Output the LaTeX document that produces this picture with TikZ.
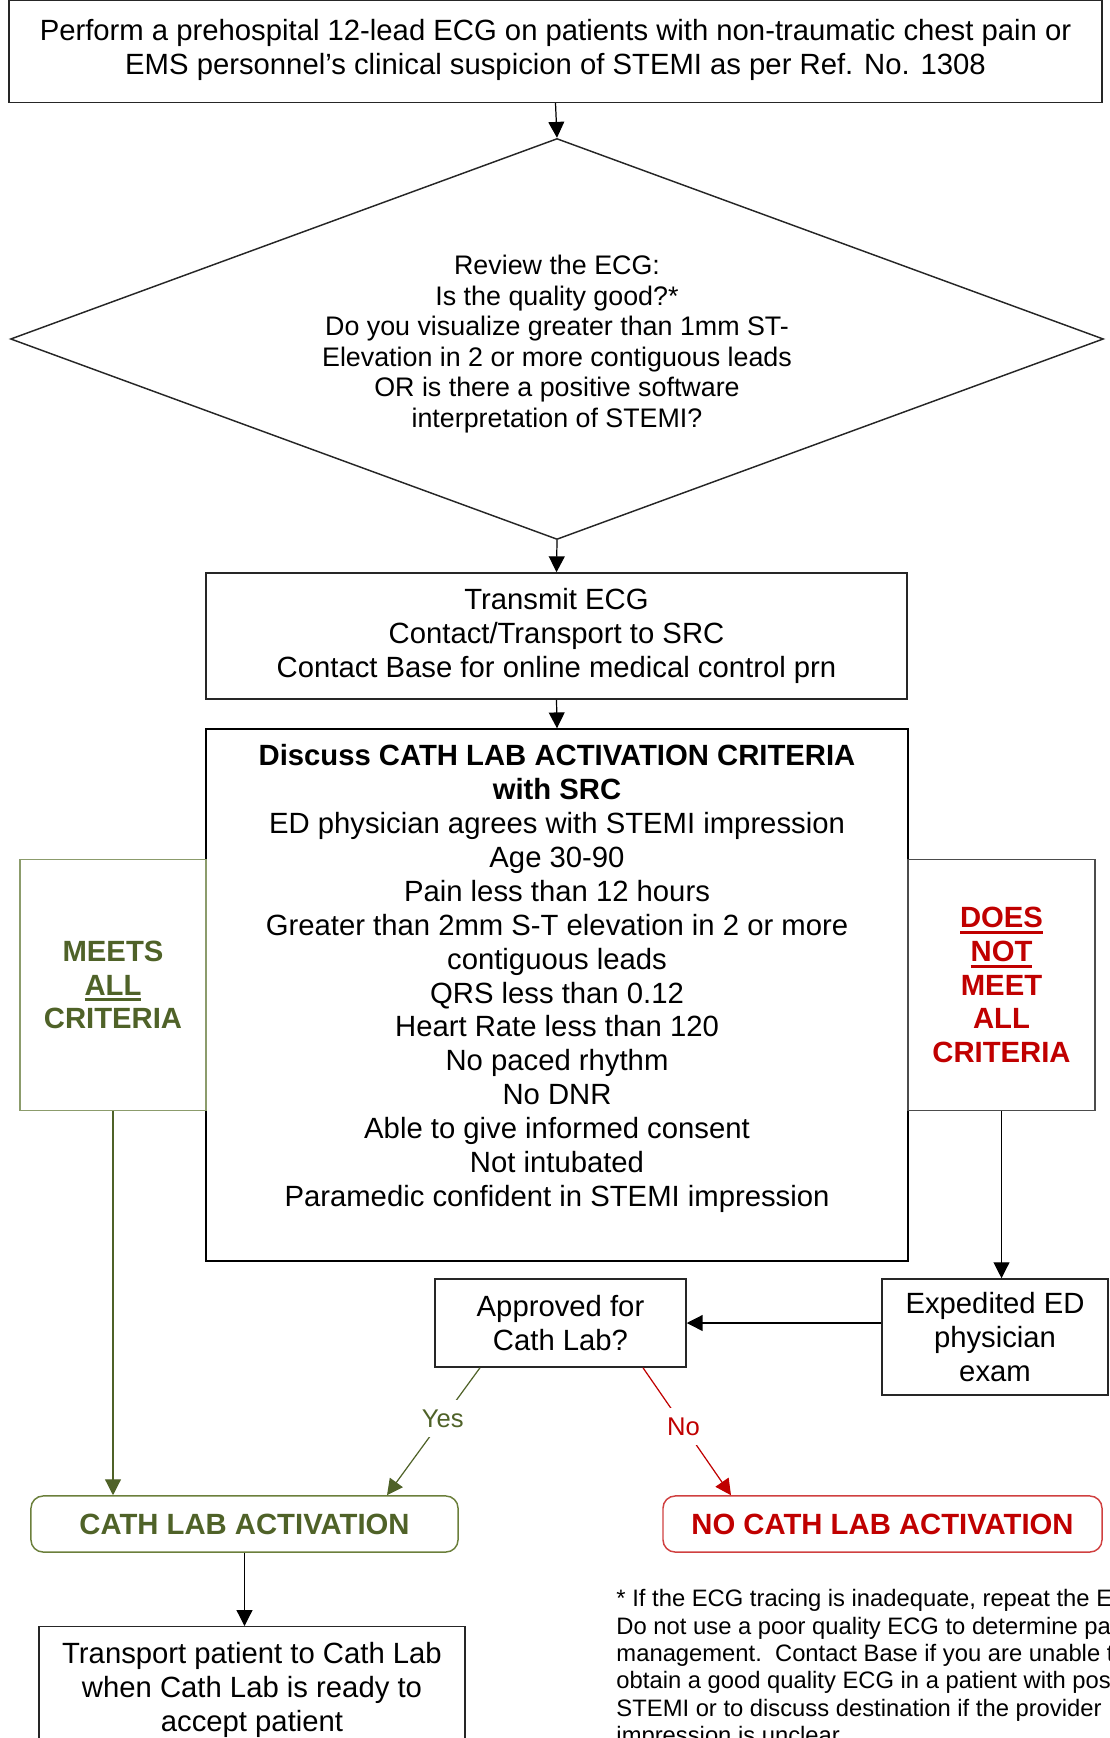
\documentclass[tikz,border=0pt]{standalone}
\usepackage{fontspec}
\setmainfont{Liberation Sans}
\usetikzlibrary{calc,arrows.meta,shapes.geometric}
\definecolor{okgreen}{HTML}{4F6228}
\definecolor{okframe}{HTML}{8C9C6C}
\definecolor{okround}{HTML}{6B7F3B}
\definecolor{nored}{HTML}{C00000}
\definecolor{noframe}{HTML}{D04040}
\newcommand\critline[1]{\setbox0\hbox{#1}\rlap{\rule[-2.6pt]{\wd0}{1.2pt}}\box0}
\tikzset{
	box/.style={draw=black!85, line width=0.6pt, align=center, inner sep=0pt, font=\fontsize{12}{13.9}\selectfont},
	flow/.style={-{Triangle[length=6.5pt,width=6.5pt]}, line width=0.5pt},
	answer/.style={fill=white, inner sep=4pt, font=\fontsize{10.5}{12}\selectfont},
}

\begin{document}
\begin{tikzpicture}[x=0.41pt, y=-0.41pt]
		%%%%% START %%%%%
		\useasboundingbox (0, 0) rectangle (1109, 1738);
		
		\node[box, minimum width=448.1pt, minimum height=41.8pt] (perform) at (555.5, 51.5) {Perform a prehospital 12-lead ECG on patients with non-traumatic chest pain or\\EMS personnel’s clinical suspicion of STEMI as per Ref. No. 1308\rule[-3.5pt]{0pt}{0pt}};
		
		\node[box, shape=diamond, aspect=2.73, minimum width=448.1pt, minimum height=164.4pt, font=\fontsize{11}{12.5}\selectfont] (review) at (557, 339) {\rule{0pt}{12pt}Review the ECG:\\Is the quality good?*\\Do you visualize greater than 1mm ST-\\Elevation in 2 or more contiguous leads\\OR is there a positive software\\interpretation of STEMI?};
		
		\node[box, minimum width=287.4pt, minimum height=51.7pt] (transmit) at (556.5, 636) {Transmit ECG\\Contact/Transport to SRC\\Contact Base for online medical control prn};
		
		\node[box, draw=black, minimum width=287.8pt, minimum height=218.1pt] (discuss) at (557, 995) {\textbf{Discuss CATH LAB ACTIVATION CRITERIA}\\\textbf{with SRC}\\ED physician agrees with STEMI impression\\Age 30-90\\Pain less than 12 hours\\Greater than 2mm S-T elevation in 2 or more\\contiguous leads\\QRS less than 0.12\\Heart Rate less than 120\\No paced rhythm\\No DNR\\Able to give informed consent\\Not intubated\\Paramedic confident in STEMI impression\rule[-16pt]{0pt}{0pt}};
		
		\node[box, draw=okframe, text=okgreen, font=\fontsize{12}{13.9}\selectfont\bfseries, minimum width=76.3pt, minimum height=102.9pt] (meets) at (113, 985) {MEETS\\\critline{ALL}\\CRITERIA};
		\node[box, draw=black!70, text=nored, font=\fontsize{12}{13.9}\selectfont\bfseries, minimum width=76.7pt, minimum height=102.9pt] (doesnot) at (1001.5, 985) {\critline{DOES}\\\critline{NOT}\\MEET\\ALL\\CRITERIA};
		
		\node[box, minimum width=92.7pt, minimum height=47.6pt] (expedited) at (995, 1337) {Expedited ED\\physician\\exam};
		\node[box, minimum width=102.9pt, minimum height=36.1pt] (approved) at (560.5, 1323) {Approved for\\Cath Lab?};
		
		\node[box, draw=okround, text=okgreen, rounded corners=5pt, font=\fontsize{12}{13.9}\selectfont\bfseries, minimum width=175.1pt, minimum height=23pt] (cathact) at (244.5, 1524) {CATH LAB ACTIVATION};
		\node[box, draw=noframe, text=nored, rounded corners=5pt, font=\fontsize{12}{13.9}\selectfont\bfseries, minimum width=180pt, minimum height=23pt] (noact) at (882.5, 1524) {NO CATH LAB ACTIVATION};
		
		\node[box, anchor=north, inner ysep=6.5pt, minimum width=174.7pt] (transport) at (252, 1626) {Transport patient to Cath Lab\\when Cath Lab is ready to\\accept patient};
		
		\node[anchor=north west, align=left, inner sep=0pt, font=\fontsize{9.75}{11.2}\selectfont] (note) at (616, 1589) {* If the ECG tracing is inadequate, repeat the ECG.\\Do not use a poor quality ECG to determine patient\\management.\ \ Contact Base if you are unable to\\obtain a good quality ECG in a patient with possible\\STEMI or to discuss destination if the provider\\impression is unclear.};
		
		% connectors
		\draw[flow] (perform.south) -- (review.north);
		\draw[flow] (review.south) -- (transmit.north);
		\draw[flow] (transmit.south) -- (discuss.north);
		\draw[flow, color=okgreen] (meets.south) -- (meets.south |- cathact.north);
		\draw[flow] (doesnot.south) -- (doesnot.south |- expedited.north);
		\draw[flow] (expedited.west |- approved.east) -- (approved.east);
		\draw[flow, color=okgreen] ($(approved.south)+(-80.5, 0)$) -- node[answer, pos=0.4] {Yes} ($(cathact.north)+(142.5, 0)$);
		\draw[flow, color=nored] ($(approved.south)+(82.5, 0)$) -- node[answer, pos=0.46] {No} ($(noact.north)+(-151.5, 0)$);
		\draw[flow] (cathact.south) -- (cathact.south |- transport.north);
		
		%%%%% END %%%%%
\end{tikzpicture}
\end{document}
